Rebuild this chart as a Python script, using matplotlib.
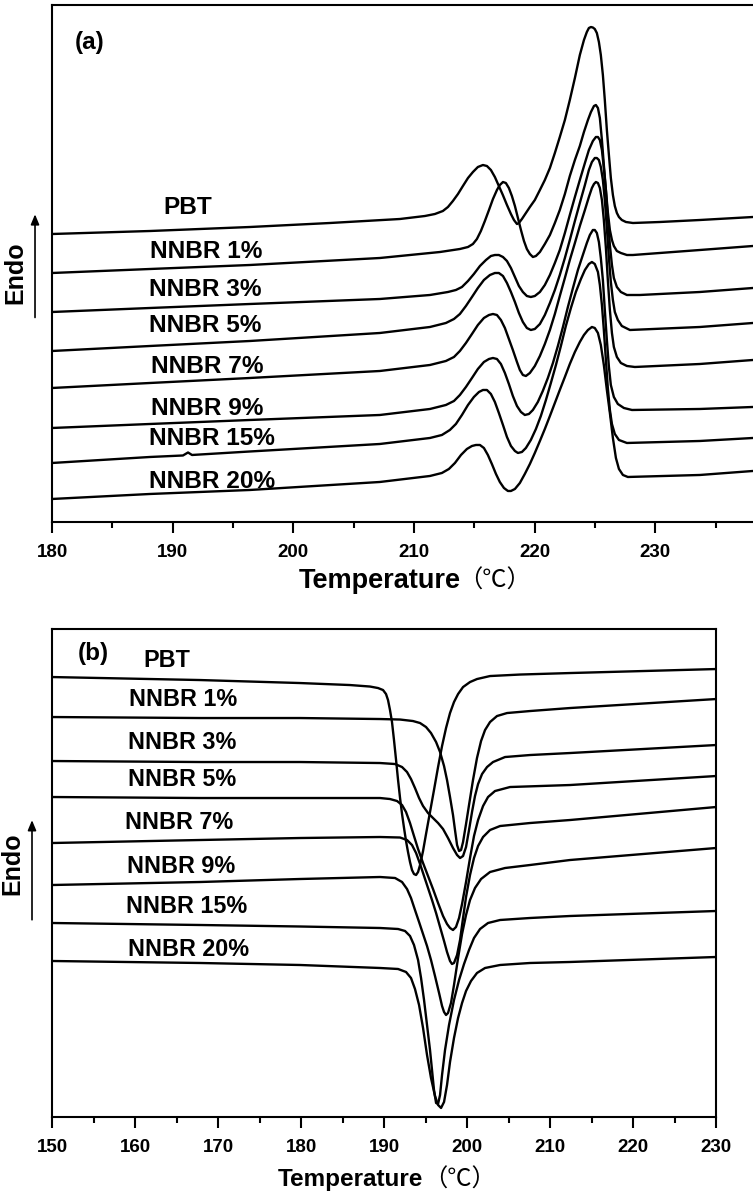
import matplotlib
matplotlib.use('Agg')
import matplotlib.pyplot as plt
from matplotlib.patches import FancyArrowPatch
from matplotlib.ticker import MultipleLocator

plt.rcParams['font.family'] = ['Liberation Sans', 'Noto Sans CJK SC']
plt.rcParams['font.weight'] = 'bold'

names = ['PBT', 'NNBR 1%', 'NNBR 3%', 'NNBR 5%', 'NNBR 7%', 'NNBR 9%', 'NNBR 15%', 'NNBR 20%']

# ---- (a) melting scans, heat flow in a.u. (curves shifted vertically) ----
Ta_pbt = [180.00, 188.12, 196.40, 203.03, 208.83, 210.90, 211.73, 212.39, 212.81, 213.22, 213.64, 214.05, 214.47,
          214.88, 215.29, 215.71, 216.04, 216.37, 216.70, 217.03, 217.36, 217.70, 218.03, 218.28, 218.53, 218.69,
          218.94, 219.27, 219.60, 220.01, 220.43, 220.84, 221.26, 221.67, 222.08, 222.50, 222.91, 223.33, 223.74,
          224.08, 224.32, 224.49, 224.66, 224.82, 224.98, 225.15, 225.32, 225.48, 225.65, 225.81, 225.98, 226.15,
          226.31, 226.48, 226.64, 226.81, 226.98, 227.22, 227.56, 228.14, 230.37, 233.69, 238.08]
ya_pbt = [28.8, 29.1, 29.5, 29.9, 30.3, 30.6, 30.8, 31.1, 31.5, 32.1, 32.8, 33.6, 34.4,
          35.0, 35.5, 35.7, 35.6, 35.2, 34.5, 33.6, 32.7, 31.7, 30.8, 30.2, 29.8, 29.9,
          30.3, 30.9, 31.5, 32.2, 33.2, 34.2, 35.4, 36.9, 38.5, 40.2, 42.2, 44.4, 46.7,
          48.2, 49.0, 49.4, 49.5, 49.45, 49.3, 48.9, 48.0, 46.7, 44.7, 42.2, 39.2, 36.7,
          34.4, 32.7, 31.6, 30.9, 30.5, 30.2, 30.0, 29.9, 30.0, 30.2, 30.5]

Ta_1 = [180.00, 188.12, 196.40, 207.17, 212.15, 213.80, 214.47, 214.88, 215.21, 215.54, 215.87, 216.21, 216.54,
        216.87, 217.11, 217.37, 217.61, 217.86, 218.11, 218.36, 218.61, 218.86, 219.11, 219.35, 219.60, 219.85,
        220.10, 220.43, 220.84, 221.26, 221.67, 222.08, 222.50, 222.91, 223.33, 223.74, 224.08, 224.41, 224.66,
        224.91, 225.07, 225.24, 225.40, 225.57, 225.73, 225.90, 226.06, 226.23, 226.40, 226.56, 226.81, 227.14,
        227.64, 228.14, 233.69, 238.08]
ya_1 = [24.9, 25.3, 25.7, 26.4, 27.0, 27.3, 27.5, 27.8, 28.3, 29.1, 30.1, 31.2, 32.3,
        33.2, 33.7, 34.0, 33.9, 33.4, 32.6, 31.6, 30.4, 29.2, 28.1, 27.3, 26.8, 26.5,
        26.6, 27.0, 27.8, 28.7, 29.9, 31.2, 32.8, 34.6, 36.2, 37.6, 39.0, 40.2, 41.0,
        41.6, 41.7, 41.4, 40.4, 38.2, 35.7, 33.2, 31.0, 29.2, 28.2, 27.6, 27.1, 26.9,
        26.7, 26.7, 27.2, 27.6]

Ta_3 = [180.00, 188.12, 196.40, 207.17, 211.32, 212.81, 213.47, 213.97, 214.47, 214.96, 215.46, 215.96, 216.37,
        216.70, 217.03, 217.37, 217.70, 218.03, 218.36, 218.69, 219.02, 219.35, 219.68, 220.01, 220.43, 220.84,
        221.26, 221.67, 222.08, 222.50, 222.91, 223.33, 223.74, 224.16, 224.49, 224.82, 225.07, 225.24, 225.40,
        225.57, 225.73, 225.90, 226.06, 226.23, 226.40, 226.56, 226.81, 227.14, 227.64, 228.71, 233.69, 238.08]
ya_3 = [21.0, 21.4, 21.8, 22.3, 22.7, 23.0, 23.2, 23.5, 24.1, 24.8, 25.6, 26.2, 26.6,
        26.7, 26.7, 26.5, 26.1, 25.4, 24.5, 23.6, 23.0, 22.6, 22.5, 22.6, 23.0, 23.7,
        24.7, 25.9, 27.2, 28.9, 30.7, 32.5, 34.2, 35.9, 37.2, 38.1, 38.5, 38.5, 38.2,
        37.2, 35.4, 33.2, 30.4, 27.7, 25.7, 24.4, 23.5, 23.0, 22.7, 22.7, 23.0, 23.4]

Ta_5 = [180.00, 188.12, 196.40, 207.17, 211.32, 212.64, 213.31, 213.80, 214.30, 214.80, 215.29, 215.79, 216.29,
        216.70, 217.03, 217.37, 217.70, 218.03, 218.36, 218.69, 219.02, 219.35, 219.68, 220.01, 220.43, 220.84,
        221.26, 221.67, 222.08, 222.50, 222.91, 223.33, 223.74, 224.16, 224.49, 224.74, 224.98, 225.15, 225.32,
        225.48, 225.65, 225.81, 225.98, 226.15, 226.31, 226.48, 226.64, 226.89, 227.22, 227.89, 233.69, 238.08]
ya_5 = [17.1, 17.6, 18.1, 18.9, 19.5, 19.9, 20.3, 20.8, 21.6, 22.5, 23.4, 24.2, 24.7,
        24.9, 24.9, 24.6, 23.9, 23.0, 22.0, 20.9, 20.0, 19.4, 19.2, 19.3, 19.8, 20.7,
        21.9, 23.2, 24.7, 26.4, 28.2, 30.1, 31.9, 33.7, 35.2, 36.0, 36.4, 36.4, 36.2,
        35.5, 34.2, 32.2, 29.4, 26.4, 24.0, 22.2, 21.0, 20.2, 19.6, 19.2, 19.5, 19.9]

Ta_7 = [180.00, 188.12, 196.40, 207.17, 211.32, 212.64, 213.31, 213.80, 214.30, 214.80, 215.29, 215.79, 216.21,
        216.54, 216.87, 217.20, 217.53, 217.86, 218.19, 218.53, 218.77, 219.02, 219.27, 219.60, 220.01, 220.43,
        220.84, 221.26, 221.67, 222.08, 222.50, 222.91, 223.33, 223.74, 224.16, 224.49, 224.74, 224.91, 225.07,
        225.24, 225.40, 225.57, 225.73, 225.90, 226.06, 226.23, 226.40, 226.56, 226.81, 227.14, 227.64, 228.30,
        233.69, 238.08]
ya_7 = [13.4, 13.9, 14.4, 15.1, 15.7, 16.1, 16.5, 17.1, 17.9, 18.8, 19.7, 20.4, 20.7,
        20.8, 20.7, 20.2, 19.4, 18.3, 17.2, 16.0, 15.2, 14.7, 14.6, 14.9, 15.6, 16.6,
        17.8, 19.2, 20.8, 22.6, 24.4, 26.2, 27.9, 29.6, 31.2, 32.5, 33.4, 33.8, 34.0,
        33.9, 33.4, 32.2, 30.2, 27.4, 24.2, 21.2, 18.9, 17.5, 16.5, 15.9, 15.6, 15.5,
        15.8, 16.2]

Ta_9 = [180.00, 188.12, 196.40, 207.17, 211.32, 212.64, 213.31, 213.80, 214.30, 214.80, 215.29, 215.79, 216.21,
        216.54, 216.87, 217.20, 217.53, 217.86, 218.19, 218.53, 218.86, 219.18, 219.52, 219.85, 220.26, 220.67,
        221.09, 221.51, 221.92, 222.34, 222.75, 223.17, 223.58, 223.99, 224.32, 224.57, 224.82, 224.98, 225.15,
        225.32, 225.48, 225.65, 225.81, 225.98, 226.15, 226.31, 226.56, 226.89, 227.39, 228.06, 233.69, 238.08]
ya_9 = [9.4, 9.8, 10.2, 10.7, 11.3, 11.7, 12.1, 12.7, 13.5, 14.4, 15.3, 16.0, 16.3,
        16.4, 16.3, 15.8, 14.9, 13.8, 12.6, 11.6, 11.0, 10.7, 10.8, 11.2, 12.0, 13.1,
        14.4, 15.9, 17.6, 19.5, 21.5, 23.4, 25.2, 26.7, 27.9, 28.7, 29.2, 29.2, 28.9,
        28.0, 26.4, 24.2, 21.2, 18.2, 15.5, 13.7, 12.5, 11.8, 11.4, 11.2, 11.3, 11.5]

Ta_15 = [180.00, 188.12, 190.85, 191.27, 191.60, 196.40, 207.17, 211.32, 212.31, 212.97, 213.47, 213.97, 214.47,
         214.96, 215.38, 215.71, 216.04, 216.37, 216.70, 217.03, 217.37, 217.70, 218.03, 218.36, 218.61, 218.94,
         219.27, 219.68, 220.10, 220.51, 220.93, 221.34, 221.76, 222.17, 222.58, 223.00, 223.41, 223.83, 224.16,
         224.49, 224.74, 224.98, 225.24, 225.40, 225.57, 225.73, 225.90, 226.06, 226.23, 226.40, 226.64, 226.98,
         227.64, 233.69, 238.08]
ya_15 = [5.9, 6.5, 6.65, 6.95, 6.7, 7.05, 7.8, 8.4, 8.7, 9.2, 9.8, 10.7, 11.7,
         12.5, 13.0, 13.2, 13.2, 12.8, 12.0, 10.9, 9.7, 8.5, 7.6, 7.1, 6.9, 7.0,
         7.4, 8.2, 9.3, 10.6, 12.2, 13.9, 15.7, 17.6, 19.6, 21.4, 23.0, 24.3, 25.2,
         25.8, 26.0, 25.8, 25.0, 23.7, 21.7, 19.2, 16.2, 13.4, 11.2, 9.8, 8.8, 8.2,
         7.9, 8.1, 8.4]

Ta_20 = [180.00, 188.12, 196.40, 207.17, 211.32, 212.31, 212.89, 213.39, 213.89, 214.38, 214.80, 215.13, 215.46,
         215.79, 216.12, 216.45, 216.79, 217.11, 217.45, 217.78, 218.03, 218.36, 218.77, 219.18, 219.60, 220.01,
         220.43, 220.84, 221.26, 221.67, 222.08, 222.50, 222.91, 223.33, 223.74, 224.08, 224.41, 224.74, 224.98,
         225.24, 225.48, 225.73, 225.98, 226.23, 226.48, 226.73, 226.98, 227.31, 227.72, 233.69, 238.08]
ya_20 = [2.3, 2.8, 3.2, 4.0, 4.6, 4.9, 5.3, 5.9, 6.7, 7.3, 7.6, 7.7, 7.7,
         7.4, 6.7, 5.8, 4.8, 4.0, 3.4, 3.1, 3.1, 3.3, 3.9, 4.8, 5.8, 6.9,
         8.1, 9.3, 10.6, 11.9, 13.2, 14.5, 15.8, 17.0, 18.0, 18.7, 19.2, 19.5, 19.4,
         18.9, 17.7, 15.7, 13.2, 10.9, 8.4, 6.4, 5.3, 4.7, 4.5, 4.7, 5.1]

# ---- (b) cooling scans, heat flow in a.u. (curves shifted vertically) ----
Tb_pbt = [150.00, 167.83, 179.88, 185.90, 188.31, 189.28, 189.88, 190.24, 190.48, 190.72, 190.96, 191.20, 191.45,
          191.69, 191.93, 192.17, 192.41, 192.65, 192.89, 193.13, 193.37, 193.61, 193.86, 194.10, 194.34, 194.70,
          195.06, 195.54, 196.02, 196.51, 196.99, 197.47, 197.95, 198.43, 198.92, 199.52, 200.36, 201.20, 202.77,
          206.39, 212.41, 230.00]
yb_pbt = [44.0, 43.7, 43.4, 43.2, 43.05, 42.9, 42.7, 42.3, 41.7, 40.7, 39.5, 37.7, 35.7,
          33.7, 31.9, 30.3, 28.9, 27.6, 26.5, 25.5, 24.7, 24.3, 24.2, 24.5, 25.2, 26.6,
          28.3, 30.5, 32.7, 35.0, 37.1, 38.9, 40.4, 41.5, 42.3, 43.0, 43.5, 43.8, 44.1,
          44.25, 44.4, 44.8]

Tb_1 = [150.00, 167.83, 179.88, 189.52, 191.93, 193.49, 194.34, 195.06, 195.66, 196.27, 196.75, 197.23, 197.59,
        197.95, 198.31, 198.55, 198.80, 199.04, 199.28, 199.52, 199.88, 200.24, 200.72, 201.20, 201.69, 202.17,
        202.77, 203.61, 204.82, 207.59, 212.41, 230.00]
yb_1 = [40.0, 39.9, 39.9, 39.8, 39.75, 39.6, 39.4, 39.0, 38.4, 37.5, 36.5, 35.1, 33.7,
        32.0, 30.2, 28.7, 27.2, 26.6, 26.7, 27.5, 29.3, 31.2, 33.7, 35.9, 37.6, 38.7,
        39.5, 40.1, 40.4, 40.6, 40.9, 41.8]

Tb_3 = [150.00, 167.83, 179.88, 189.52, 191.33, 192.17, 192.77, 193.25, 193.73, 194.22, 194.70, 195.30, 195.90,
        196.51, 197.11, 197.71, 198.31, 198.80, 199.16, 199.52, 199.88, 200.24, 200.60, 200.96, 201.33, 201.81,
        202.41, 203.13, 204.58, 207.59, 212.41, 230.00]
yb_3 = [35.6, 35.5, 35.5, 35.4, 35.3, 35.0, 34.5, 33.8, 32.9, 31.9, 31.1, 30.4, 29.9,
        29.4, 28.8, 27.9, 26.9, 26.2, 25.9, 26.1, 27.0, 28.7, 30.5, 32.1, 33.3, 34.3,
        35.0, 35.5, 36.0, 36.2, 36.4, 37.2]

Tb_5 = [150.00, 167.83, 179.88, 189.52, 190.72, 191.57, 192.17, 192.65, 193.13, 193.61, 194.10, 194.70, 195.30,
        195.90, 196.51, 197.11, 197.59, 197.95, 198.31, 198.67, 199.04, 199.40, 199.88, 200.36, 200.84, 201.33,
        201.93, 202.53, 203.37, 205.18, 212.41, 230.00]
yb_5 = [32.0, 31.9, 31.9, 31.9, 31.8, 31.6, 31.2, 30.5, 29.4, 28.1, 26.8, 25.4, 24.1,
        22.8, 21.4, 20.1, 19.3, 18.9, 18.7, 19.0, 19.9, 21.3, 23.5, 25.9, 28.1, 29.7,
        31.1, 32.0, 32.6, 33.0, 33.2, 34.1]

Tb_7 = [150.00, 167.83, 179.88, 189.52, 191.93, 192.77, 193.37, 193.86, 194.34, 194.82, 195.30, 195.78, 196.27,
        196.75, 197.23, 197.59, 197.95, 198.19, 198.43, 198.80, 199.16, 199.52, 199.88, 200.36, 200.84, 201.33,
        201.93, 202.77, 203.98, 207.59, 212.41, 230.00]
yb_7 = [27.4, 27.7, 27.9, 28.0, 27.95, 27.7, 27.2, 26.4, 25.3, 24.1, 22.9, 21.7, 20.4,
        19.0, 17.6, 16.5, 15.6, 15.3, 15.4, 16.2, 17.7, 19.9, 22.0, 24.2, 25.9, 27.1,
        28.0, 28.7, 29.1, 29.4, 29.7, 31.0]

Tb_9 = [150.00, 167.83, 179.88, 189.52, 191.33, 192.17, 192.77, 193.25, 193.73, 194.22, 194.70, 195.18, 195.66,
        196.14, 196.63, 196.99, 197.23, 197.47, 197.71, 198.07, 198.43, 198.92, 199.40, 199.88, 200.36, 200.96,
        201.69, 202.77, 204.58, 207.59, 212.41, 230.00]
yb_9 = [23.2, 23.5, 23.8, 24.0, 23.9, 23.5, 22.8, 21.9, 20.7, 19.5, 18.3, 17.1, 15.7,
        14.1, 12.4, 11.1, 10.5, 10.2, 10.4, 11.4, 13.2, 15.9, 18.3, 20.2, 21.7, 22.9,
        23.8, 24.5, 24.9, 25.2, 25.7, 26.9]

Tb_15 = [150.00, 167.83, 179.88, 189.52, 191.69, 192.53, 193.13, 193.61, 194.10, 194.46, 194.82, 195.18, 195.54,
         195.78, 196.02, 196.27, 196.51, 196.75, 196.99, 197.35, 197.83, 198.43, 199.04, 199.64, 200.24, 200.84,
         201.57, 202.53, 203.98, 207.59, 212.41, 230.00]
yb_15 = [19.4, 19.2, 19.05, 18.9, 18.8, 18.6, 18.1, 17.2, 15.7, 13.9, 11.7, 9.2, 6.7,
         4.7, 2.7, 1.4, 1.3, 2.2, 4.2, 6.7, 9.2, 11.7, 13.7, 15.3, 16.7, 17.9,
         18.8, 19.4, 19.7, 19.9, 20.1, 20.6]

Tb_20 = [150.00, 167.83, 179.88, 189.52, 191.69, 192.65, 193.25, 193.73, 194.22, 194.70, 195.18, 195.66, 196.14,
         196.51, 196.87, 197.23, 197.59, 197.95, 198.43, 198.92, 199.40, 199.88, 200.48, 201.20, 202.17, 203.98,
         207.59, 212.41, 230.00]
yb_20 = [15.6, 15.4, 15.2, 14.9, 14.8, 14.5, 13.9, 12.8, 11.2, 8.9, 6.2, 3.9, 2.1,
         1.2, 0.9, 1.5, 3.2, 5.5, 7.9, 9.9, 11.4, 12.6, 13.6, 14.4, 14.9, 15.2,
         15.4, 15.5, 16.0]

curves_a = [(Ta_pbt, ya_pbt), (Ta_1, ya_1), (Ta_3, ya_3), (Ta_5, ya_5),
            (Ta_7, ya_7), (Ta_9, ya_9), (Ta_15, ya_15), (Ta_20, ya_20)]
curves_b = [(Tb_pbt, yb_pbt), (Tb_1, yb_1), (Tb_3, yb_3), (Tb_5, yb_5),
            (Tb_7, yb_7), (Tb_9, yb_9), (Tb_15, yb_15), (Tb_20, yb_20)]

# where the sample names sit (left edge, vertical centre)
lab_a_x = [189.2, 188.1, 188.0, 188.0, 188.2, 188.2, 188.0, 188.0]
lab_a_y = [31.5, 27.0, 23.2, 19.6, 15.5, 11.3, 8.3, 4.0]
lab_b_x = [161.0, 159.3, 159.2, 159.2, 158.8, 159.0, 158.9, 159.2]
lab_b_y = [45.7, 41.8, 37.5, 33.8, 29.5, 25.1, 21.1, 16.7]

fig = plt.figure(figsize=(7.53, 11.95), dpi=100)
ax1 = fig.add_axes([0.0691, 0.5632, 0.9615, 0.4326])
ax2 = fig.add_axes([0.0691, 0.0653, 0.8818, 0.4083])

for T, y in curves_a:
    ax1.plot(T, y, color='black', lw=1.7, solid_joinstyle='round', solid_capstyle='round')
for T, y in curves_b:
    ax2.plot(T, y, color='black', lw=1.7, solid_joinstyle='round', solid_capstyle='round')

for i, n in enumerate(names):
    ax1.text(lab_a_x[i], lab_a_y[i], n, fontsize=17.6, fontweight='bold', ha='left', va='center')
    ax2.text(lab_b_x[i], lab_b_y[i], n, fontsize=16.8, fontweight='bold', ha='left', va='center')

ax1.set_xlim(180, 240)
ax1.set_ylim(0, 51.7)
ax1.set_xticks([180, 190, 200, 210, 220, 230])
ax2.set_xlim(150, 230)
ax2.set_ylim(0, 48.8)
ax2.set_xticks([150, 160, 170, 180, 190, 200, 210, 220, 230])

for ax in (ax1, ax2):
    ax.xaxis.set_minor_locator(MultipleLocator(5))
    ax.set_yticks([])
    ax.tick_params(axis='x', which='major', direction='out', length=8, width=1.5,
                   labelsize=13.5, pad=8)
    ax.tick_params(axis='x', which='minor', direction='out', length=4.5, width=1.5)
    for lab in ax.get_xticklabels():
        lab.set_fontweight('bold')
    for s in ax.spines.values():
        s.set_linewidth(1.5)

ax1.text(0.032, 0.928, '(a)', transform=ax1.transAxes, fontsize=17.5, fontweight='bold', va='center')
ax2.text(0.038, 0.949, '(b)', transform=ax2.transAxes, fontsize=17.5, fontweight='bold', va='center')

# x titles: bold word, thin full-width unit
fig.text(0.612, 0.514, 'Temperature', fontsize=19.5, fontweight='bold', ha='right', va='center')
fig.text(0.609, 0.514, '（℃）', fontsize=17.5, fontweight='normal', ha='left', va='center',
         family='Noto Sans CJK SC')
fig.text(0.562, 0.0126, 'Temperature', fontsize=17.5, fontweight='bold', ha='right', va='center')
fig.text(0.562, 0.0126, '（℃）', fontsize=17.5, fontweight='normal', ha='left', va='center',
         family='Noto Sans CJK SC')

# Endo arrows
fig.text(0.021, 0.772, 'Endo', rotation=90, fontsize=18, fontweight='bold', ha='center', va='center')
fig.text(0.016, 0.277, 'Endo', rotation=90, fontsize=18, fontweight='bold', ha='center', va='center')
fig.add_artist(FancyArrowPatch((0.0465, 0.732), (0.0465, 0.823), transform=fig.transFigure,
                               arrowstyle='-|>,head_length=6,head_width=2.5', color='black', lw=1.2))
fig.add_artist(FancyArrowPatch((0.0425, 0.228), (0.0425, 0.316), transform=fig.transFigure,
                               arrowstyle='-|>,head_length=6,head_width=2.5', color='black', lw=1.2))

plt.savefig('out.png', dpi=100)
